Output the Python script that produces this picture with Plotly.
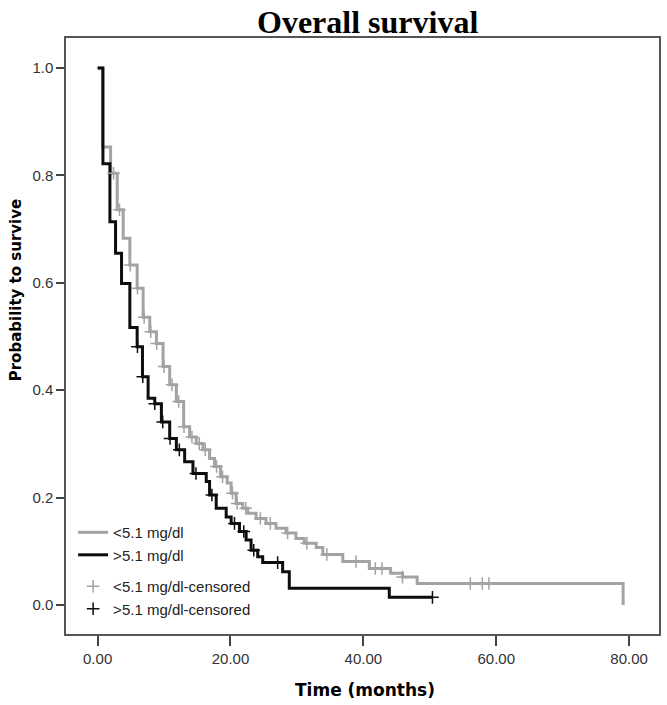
import numpy as np
import plotly.graph_objects as go

# ---- data ----
grey_name = "<5.1 mg/dl"
black_name = ">5.1 mg/dl"

grey_times = [0, 0.75, 1.95, 2.95, 3.85, 4.85, 5.95, 6.85, 7.85, 8.85, 9.85, 10.85, 11.85,
              12.95, 13.85, 14.85, 15.85, 16.85, 17.6, 18.5, 19.5, 20.1, 20.85, 21.85, 22.6,
              23.85, 25.35, 26.85, 28.35, 29.85, 31.1, 32.9, 33.9, 36.9, 40.9, 44.1, 45.9,
              48.1, 79.1]
grey_surv = [1.0, 0.853, 0.804, 0.736, 0.683, 0.633, 0.590, 0.536, 0.509, 0.487, 0.444, 0.410,
             0.379, 0.332, 0.313, 0.301, 0.289, 0.273, 0.258, 0.239, 0.227, 0.208, 0.189, 0.180,
             0.171, 0.161, 0.152, 0.143, 0.134, 0.124, 0.115, 0.107, 0.094, 0.081, 0.068, 0.059,
             0.052, 0.040, 0.0]
grey_censor = [2.4, 3.3, 4.9, 6.0, 7.0, 8.0, 8.9, 10.0, 11.2, 12.2, 13.0, 14.2, 15.3, 16.2,
               17.9, 18.8, 20.3, 21.0, 22.3, 24.5, 26.0, 28.6, 31.5, 34.5, 38.9, 41.8, 42.8,
               45.9, 56.1, 57.9, 58.9]

black_times = [0, 0.8, 1.85, 2.7, 3.6, 4.85, 5.95, 6.75, 7.6, 8.6, 9.6, 10.85, 11.85, 13.1,
               14.35, 16.35, 16.85, 17.85, 19.35, 20.1, 21.35, 22.35, 23.1, 24.1, 24.85, 27.85,
               28.85, 43.9]
black_surv = [1.0, 0.822, 0.714, 0.655, 0.599, 0.517, 0.481, 0.425, 0.385, 0.375, 0.341, 0.310,
              0.289, 0.267, 0.245, 0.230, 0.205, 0.180, 0.164, 0.152, 0.137, 0.121, 0.102, 0.090,
              0.079, 0.062, 0.031, 0.0143]
black_last = 50.4
black_censor = [6.0, 6.8, 8.6, 9.8, 10.9, 12.3, 14.8, 17.2, 20.6, 22.0, 23.5, 27.1, 50.4]

x_ticks = [0, 20, 40, 60, 80]
y_ticks = [0.0, 0.2, 0.4, 0.6, 0.8, 1.0]

GREY = "#a3a3a3"
BLACK = "#0d0d0d"


def step_at(times, surv, t):
    idx = np.searchsorted(np.array(times), np.array(t), side="right") - 1
    return list(np.array(surv)[idx])


fig = go.Figure()
fig.add_trace(go.Scatter(x=grey_times, y=grey_surv, mode="lines", line_shape="hv",
                         line=dict(color=GREY, width=3), name=grey_name, legendgroup="a"))
fig.add_trace(go.Scatter(x=black_times + [black_last], y=black_surv + [black_surv[-1]],
                         mode="lines", line_shape="hv",
                         line=dict(color=BLACK, width=3), name=black_name, legendgroup="a"))
fig.add_trace(go.Scatter(x=grey_censor, y=step_at(grey_times, grey_surv, grey_censor),
                         mode="markers",
                         marker=dict(symbol="cross-thin", size=9,
                                     line=dict(color=GREY, width=1.5)),
                         name=grey_name + "-censored", legendgroup="b"))
fig.add_trace(go.Scatter(x=black_censor, y=step_at(black_times, black_surv, black_censor),
                         mode="markers",
                         marker=dict(symbol="cross-thin", size=9,
                                     line=dict(color=BLACK, width=1.5)),
                         name=black_name + "-censored", legendgroup="b"))

axis_common = dict(showline=True, mirror=True, linecolor="#555555", linewidth=1.5,
                   showgrid=False, zeroline=False, ticks="outside", tickcolor="#444444",
                   tickwidth=1.5, tickfont=dict(family="Liberation Sans", size=15, color="#333333"))

fig.update_xaxes(range=[-4.76, 84.5], tickvals=x_ticks, tickformat=".2f", ticklen=10,
                 **axis_common)
fig.update_yaxes(range=[-0.054, 1.056], tickvals=y_ticks, tickformat=".1f", ticklen=8,
                 **axis_common)

fig.update_layout(
    width=667, height=705,
    margin=dict(l=66, r=6, t=38, b=71),
    paper_bgcolor="white", plot_bgcolor="white",
    showlegend=True,
    legend=dict(x=0.012, y=0.015, xanchor="left", yanchor="bottom",
                bgcolor="rgba(0,0,0,0)", traceorder="grouped", tracegroupgap=9,
                font=dict(family="Liberation Sans", size=15, color="#222222")),
    annotations=[
        dict(text="<b>Overall survival</b>", x=0.508, y=(634 - 22) / 596, xref="paper",
             yref="paper", xanchor="center", yanchor="middle", showarrow=False,
             font=dict(family="Liberation Serif", size=32, color="#000000")),
        dict(text="<b>Time (months)</b>", x=0.505, y=-0.094, xref="paper", yref="paper",
             xanchor="center", yanchor="middle", showarrow=False,
             font=dict(family="DejaVu Sans", size=17, color="#000000")),
        dict(text="<b>Probability to survive</b>", x=(16 - 66) / 595, y=0.577, xref="paper",
             yref="paper", xanchor="center", yanchor="middle", textangle=-90,
             showarrow=False, font=dict(family="DejaVu Sans", size=15, color="#000000")),
    ],
)

fig.write_html("out.html", config={"displayModeBar": False},
               post_script="document.body.style.margin='0px';")
